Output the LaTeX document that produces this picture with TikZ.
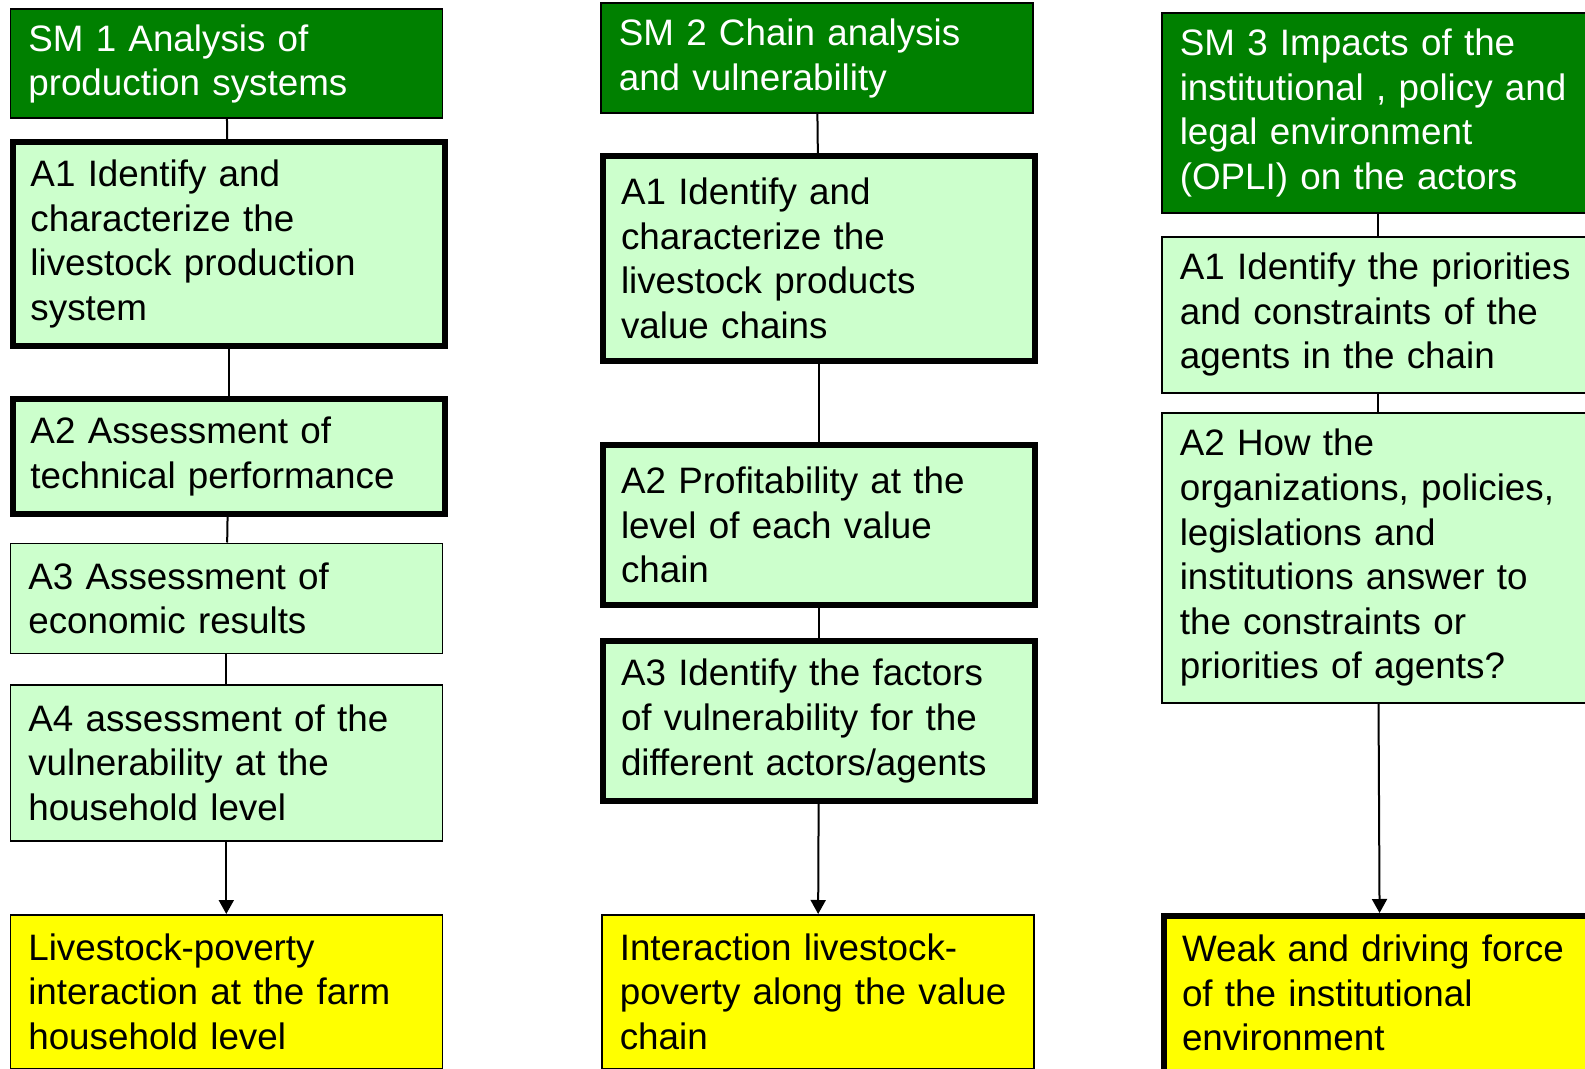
\documentclass[tikz,border=0pt]{standalone}
\usepackage{xcolor}
\usepackage{fontspec}
\setmainfont{Liberation Sans}
\usetikzlibrary{arrows.meta}

\definecolor{smgreen}{RGB}{0,128,0}
\definecolor{actgreen}{RGB}{204,255,204}
\definecolor{resyellow}{RGB}{255,255,0}

\begin{document}
\begin{tikzpicture}[x=.5pt, y=-.5pt,
             box/.style={draw=black, line width=.8pt, anchor=north west,
                         inner xsep=9pt, inner ysep=0pt, text width=198pt,
                         align=left, font=\fontsize{18.4}{22.3}\selectfont},
             sm/.style={box, fill=smgreen, text=white},
             act/.style={box, fill=actgreen},
             res/.style={box, fill=resyellow},
             heavy/.style={line width=3pt},
             link/.style={line width=1pt},
             flow/.style={link, -{Triangle[width=7.5pt, length=7pt]}}]

             \useasboundingbox (0, 0) rectangle (1585, 1069);
             \clip (0, 0) rectangle (1585, 1069);

             \node[sm, minimum height=54.5pt] (sm1) at (9.5, 8.5) {SM 1 Analysis of\\production systems};
             \node[act, heavy, minimum height=102pt] (a11) at (9.5, 139) {A1 Identify and\\characterize the\\livestock production\\system};
             \node[act, heavy, minimum height=57.5pt] (a12) at (9.5, 396) {A2 Assessment of\\technical performance};
             \node[act, minimum height=55pt] (a13) at (9.5, 542.5) {A3 Assessment of\\economic results};
             \node[act, minimum height=78pt] (a14) at (9.5, 684) {A4 assessment of the\\vulnerability at the\\household level};
             \node[res, minimum height=77pt] (res1) at (9.5, 914) {Livestock-poverty\\interaction at the farm\\household level};

             \node[sm, minimum height=55pt] (sm2) at (600, 2.5) {SM 2 Chain analysis\\and vulnerability};
             \node[act, heavy, minimum height=102.5pt] (a21) at (600, 153) {A1 Identify and\\characterize the\\livestock products\\value chains};
             \node[act, heavy, minimum height=80pt] (a22) at (600, 442) {A2 Profitability at the\\level of each value\\chain};
             \node[act, heavy, minimum height=80pt] (a23) at (600, 638) {A3 Identify the factors\\of vulnerability for the\\different actors/agents};
             \node[res, minimum height=77pt] (res2) at (601, 914) {Interaction livestock-\\poverty along the value\\chain};

             \node[sm, minimum height=100pt] (sm3) at (1161, 12) {SM 3 Impacts of the\\institutional , policy and\\legal environment\\(OPLI) on the actors};
             \node[act, minimum height=78pt] (a31) at (1161, 236) {A1 Identify the priorities\\and constraints of the\\agents in the chain};
             \node[act, minimum height=145pt] (a32) at (1161, 412) {A2 How the\\organizations, policies,\\legislations and\\institutions answer to\\the constraints or\\priorities of agents?};
             \node[res, heavy, inner ysep=9.5pt, text depth=51pt] (res3) at (1161, 913) {Weak and driving force\\of the institutional\\environment};

             \draw[link] (sm1) -- (a11);
             \draw[link] (a11) -- (a12);
             \draw[link] (a12) -- (a13);
             \draw[link] (a13) -- (a14);
             \draw[flow] (a14) -- (res1);

             \draw[link] (sm2) -- (a21);
             \draw[link] (a21) -- (a22);
             \draw[link] (a22) -- (a23);
             \draw[flow] (a23) -- (res2);

             \draw[link] (sm3) -- (a31);
             \draw[link] (a31) -- (a32);
             \draw[flow] (a32) -- (res3);
\end{tikzpicture}
\end{document}
